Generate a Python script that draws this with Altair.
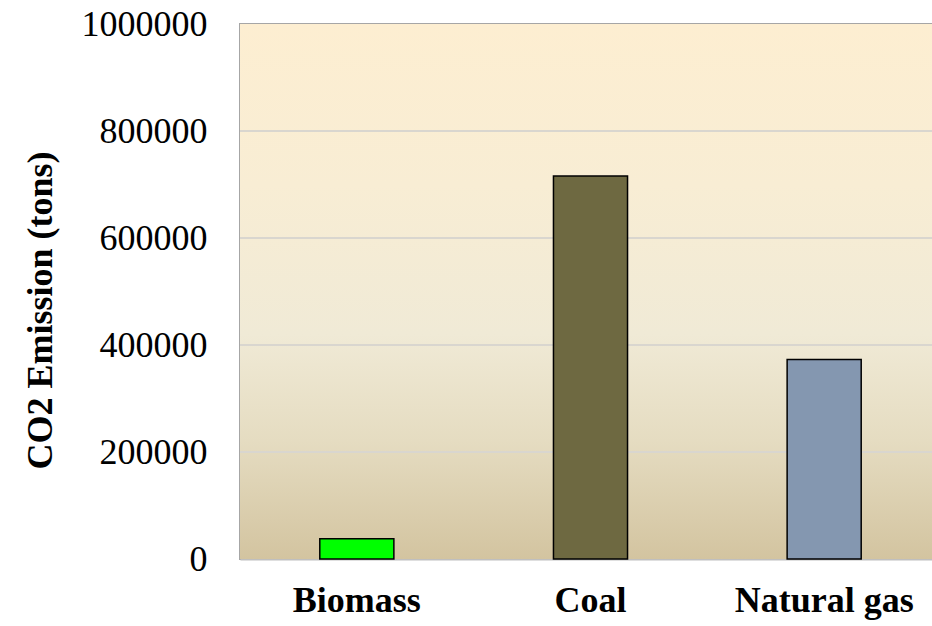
import altair as alt
import pandas as pd

# Data
fuels = ["Biomass", "Coal", "Natural gas"]
emissions = [38000, 716000, 373000]
bar_colors = ["#00FF00", "#6E6941", "#8497B0"]
y_ticks = [0, 200000, 400000, 600000, 800000, 1000000]

# Plot area size (pixels)
W, H = 692, 535
FONT = "Liberation Serif"

bars_df = pd.DataFrame({"fuel": fuels, "emission": emissions, "color": bar_colors})
grid_df = pd.DataFrame({"v": y_ticks[1:-1]})

y_scale = alt.Scale(domain=[0, 1000000], nice=False)

# Parchment-style gradient behind the bars
background = alt.Chart(pd.DataFrame({"a": [0]})).mark_rect(
    color=alt.LinearGradient(
        gradient="linear", x1=0, y1=0, x2=0, y2=1,
        stops=[
            alt.GradientStop(offset=0.0, color="#FDEED1"),
            alt.GradientStop(offset=0.3, color="#F8EDD4"),
            alt.GradientStop(offset=0.58, color="#F0EAD6"),
            alt.GradientStop(offset=0.78, color="#E5DCC1"),
            alt.GradientStop(offset=1.0, color="#D3C4A0"),
        ],
    )
).encode(x=alt.value(0), x2=alt.value(W), y=alt.value(0), y2=alt.value(H))

gridlines = alt.Chart(grid_df).mark_rule(color="#D9D6CF", strokeWidth=2).encode(
    y=alt.Y("v:Q", scale=y_scale),
    x=alt.value(0),
    x2=alt.value(W),
)

bars = alt.Chart(bars_df).mark_bar(stroke="black", strokeWidth=1.5).encode(
    x=alt.X(
        "fuel:N",
        sort=fuels,
        scale=alt.Scale(range=[0, 701], paddingInner=0.683, paddingOuter=0.3415),
        axis=alt.Axis(
            title=None,
            labelAngle=0,
            labelFont=FONT,
            labelFontSize=36,
            labelFontWeight="bold",
            labelColor="black",
            labelPadding=24,
            ticks=False,
            domainColor="#BFBFBF",
            domainWidth=2,
        ),
    ),
    y=alt.Y(
        "emission:Q",
        scale=y_scale,
        axis=alt.Axis(
            values=y_ticks,
            format="d",
            grid=False,
            domain=False,
            ticks=False,
            labelFont=FONT,
            labelFontSize=36,
            labelColor="black",
            labelPadding=33,
            title="CO2 Emission (tons)",
            titleFont=FONT,
            titleFontSize=36,
            titleFontWeight="bold",
            titleColor="black",
            titleAngle=270,
            titleAlign="center",
            titleBaseline="middle",
            titleX=-200,
            titleY=286,
        ),
    ),
    color=alt.Color("color:N", scale=None),
)

chart = alt.layer(background, gridlines, bars).properties(
    width=W,
    height=H,
    autosize=alt.AutoSizeParams(type="none"),
    padding={"left": 240, "top": 24, "right": 0, "bottom": 67},
    background="white",
).configure_view(stroke="#A6A6A6", strokeWidth=2)

chart.save("out.html", embed_options={"renderer": "svg", "actions": False})
